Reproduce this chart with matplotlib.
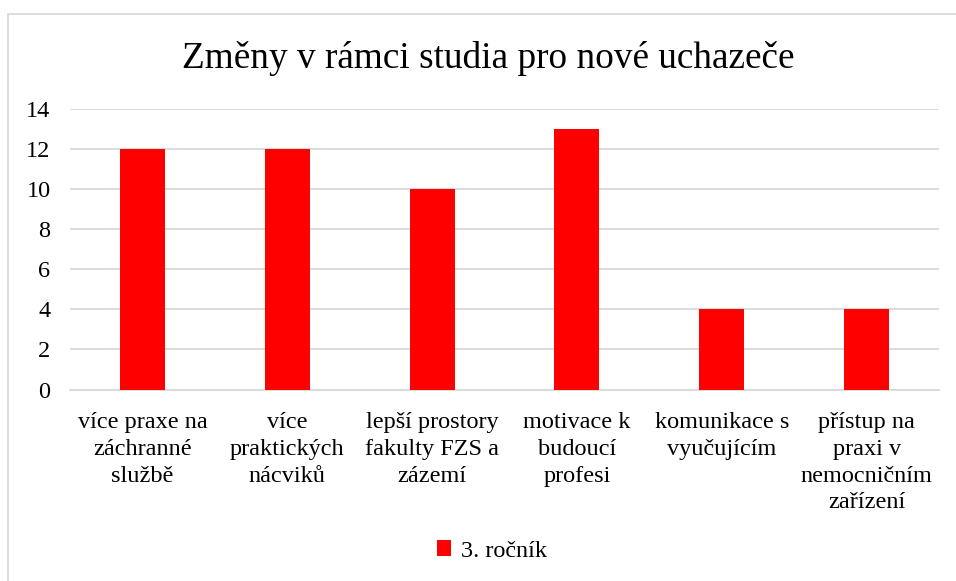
import matplotlib
matplotlib.use("Agg")
import matplotlib.pyplot as plt
from matplotlib.patches import Rectangle

categories = ["více praxe na\nzáchranné\nslužbě", "více\npraktických\nnácviků",
              "lepší prostory\nfakulty FZS a\nzázemí", "motivace k\nbudoucí\nprofesi",
              "komunikace s\nvyučujícím", "přístup na\npraxi v\nnemocničním\nzařízení"]
values = [12, 12, 10, 13, 4, 4]
series_name = "3. ročník"
title = "Změny v rámci studia pro nové uchazeče"
yticks = [0, 2, 4, 6, 8, 10, 12, 14]

plt.rcParams['font.family'] = ['Liberation Serif', 'DejaVu Serif']

W, H = 956, 581
fig = plt.figure(figsize=(W/100, H/100), dpi=100)
ax = fig.add_axes([70/W, 1-389.5/H, 869/W, (389.5-109)/H])

x = list(range(len(values)))
ax.bar(x, values, width=0.31, color='#FF0000', label=series_name, zorder=3)
ax.set_xlim(-0.5, len(values)-0.5)
ax.set_ylim(0, 14)
ax.set_yticks(yticks)
ax.set_yticklabels([str(t) for t in yticks], fontsize=17.5)
ax.grid(axis='y', color='#D9D9D9', linewidth=1.3, zorder=0)
ax.set_xticks(x)
ax.set_xticklabels(categories, fontsize=17.5, linespacing=1.37, va='top')
ax.tick_params(axis='both', length=0)
ax.tick_params(axis='y', pad=14)
ax.tick_params(axis='x', pad=16)
for s in ['top', 'right', 'left']:
    ax.spines[s].set_visible(False)
ax.spines['bottom'].set_color('#D9D9D9')
ax.spines['bottom'].set_linewidth(1.3)

fig.text(488/W, 1-59/H, title, fontsize=26.8, ha='center', va='center')

leg = fig.legend(loc='center', bbox_to_anchor=(492/W, 1-551/H), frameon=False,
                 fontsize=17.5, handlelength=0.6, handleheight=0.6, handletextpad=0.4)

fig.patches.append(Rectangle((8/W, -0.1), 2.0, 1+0.1-13.5/H, transform=fig.transFigure,
                             fill=False, edgecolor='#D9D9D9', linewidth=1.3))

fig.savefig("out.png", dpi=100, facecolor='white')
